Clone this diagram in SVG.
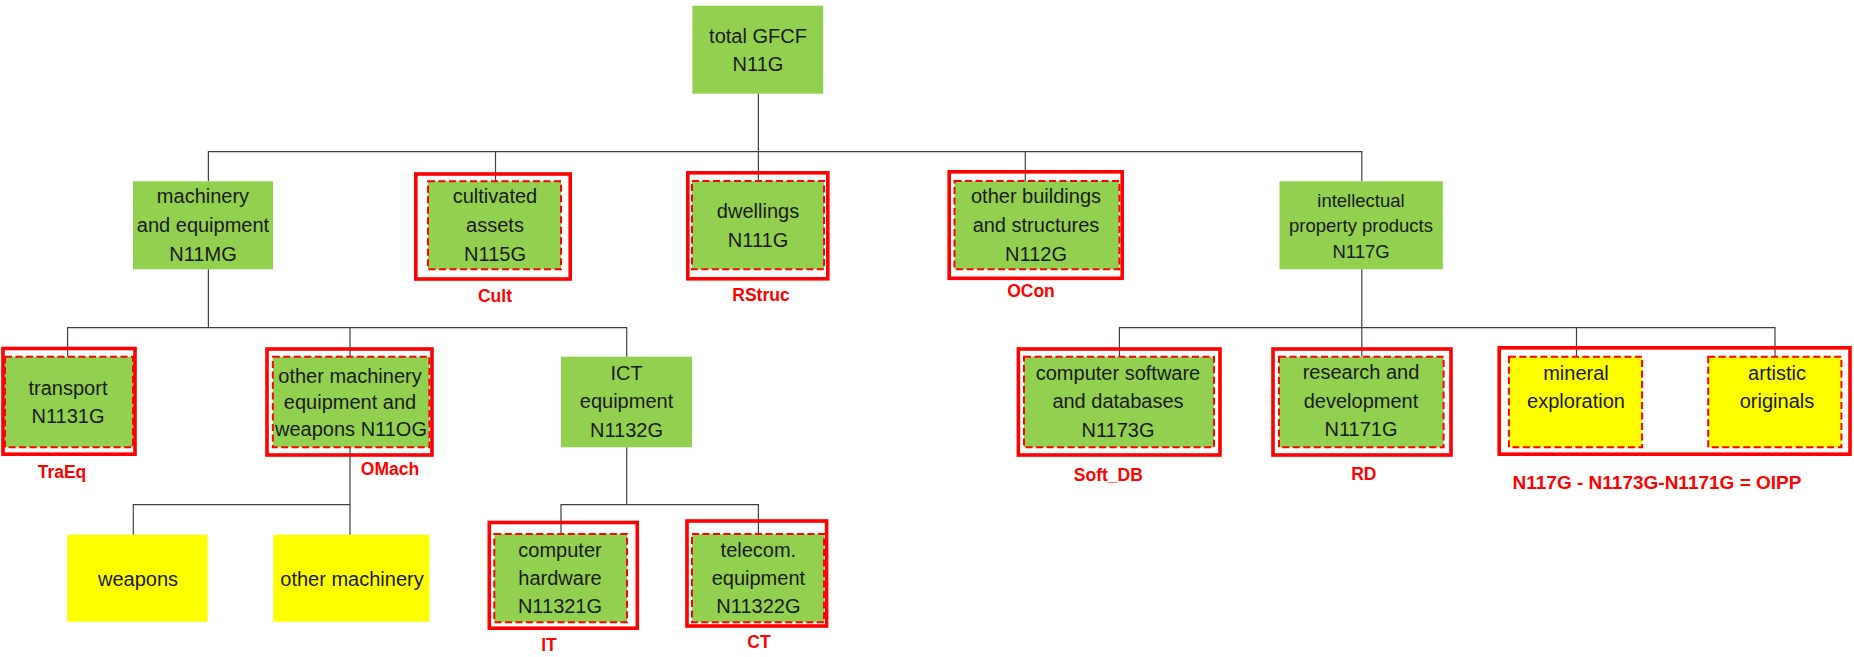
<svg xmlns="http://www.w3.org/2000/svg" width="1854" height="657" viewBox="0 0 1854 657">
<style>
.g{fill:#92D050}
.y{fill:#FFFF00}
.dash{stroke:#FF0000;stroke-width:2;stroke-dasharray:7 3.5}
.frame{fill:none;stroke:#FF0000;stroke-width:3.6}
.t{font-family:"Liberation Sans",Arial,sans-serif;font-size:20px;fill:#1a1a1a;text-anchor:middle}
.s{font-size:18.5px}
.lbl{font-family:"Liberation Sans",Arial,sans-serif;font-weight:bold;font-size:17.5px;fill:#FF0000;text-anchor:middle}
.c{stroke:#404040;stroke-width:1.2;fill:none}
</style>
<rect width="1854" height="657" fill="#FFFFFF"/>
<g id="connectors" class="c">
<path d="M758.4 93.7V181"/>
<path d="M208.4 181.3V151.7H1361.8V181.3"/>
<path d="M495.5 151.7V181.3"/>
<path d="M1025.3 151.7V181"/>
<path d="M208.4 269.3V327.7"/>
<path d="M67.6 356.7V327.7H626.7V356.7"/>
<path d="M350 327.7V356.7"/>
<path d="M350 447.3V534.7"/>
<path d="M133.3 534.7V504.7H350"/>
<path d="M626.7 447.3V504.7"/>
<path d="M561 534V504.7H758.4V534"/>
<path d="M1361.8 269.3V356.7"/>
<path d="M1119.4 356.7V327.7H1775V356.7"/>
<path d="M1576.5 327.7V356.7"/>
</g>
<g id="total">
<rect class="g" x="692.4" y="5.7" width="130.8" height="88"/>
<text class="t" x="758" y="42.7">total GFCF</text>
<text class="t" x="758" y="71">N11G</text>
</g>
<g id="machinery">
<rect class="g" x="133" y="181.3" width="140" height="88"/>
<text class="t" x="203" y="203.3">machinery</text>
<text class="t" x="203" y="232.3">and equipment</text>
<text class="t" x="203" y="261">N11MG</text>
</g>
<g id="cultivated">
<rect class="frame" x="415.8" y="174" width="154.4" height="105"/>
<rect class="g dash" x="428" y="181.3" width="133" height="88"/>
<text class="t" x="495" y="203.3">cultivated</text>
<text class="t" x="495" y="232.3">assets</text>
<text class="t" x="495" y="261">N115G</text>
<text class="lbl" x="495" y="301.7">Cult</text>
</g>
<g id="dwellings">
<rect class="frame" x="687.8" y="172.8" width="140" height="106"/>
<rect class="g dash" x="692" y="181" width="132" height="88.3"/>
<text class="t" x="758" y="218.3">dwellings</text>
<text class="t" x="758" y="246.7">N111G</text>
<text class="lbl" x="761" y="301">RStruc</text>
</g>
<g id="otherbuildings">
<rect class="frame" x="949.2" y="171.8" width="173" height="106.5"/>
<rect class="g dash" x="954.5" y="181" width="164.9" height="88.3"/>
<text class="t" x="1036" y="203.3">other buildings</text>
<text class="t" x="1036" y="232.3">and structures</text>
<text class="t" x="1036" y="261">N112G</text>
<text class="lbl" x="1031" y="296.7">OCon</text>
</g>
<g id="ipp">
<rect class="g" x="1279.5" y="181.3" width="163.3" height="88"/>
<text class="t s" x="1361" y="206.7">intellectual</text>
<text class="t s" x="1361" y="232.3">property products</text>
<text class="t s" x="1361" y="257.7">N117G</text>
</g>
<g id="transport">
<rect class="frame" x="3" y="348.5" width="132" height="105.7"/>
<rect class="g dash" x="5" y="356.7" width="128" height="90.6"/>
<text class="t" x="68" y="395">transport</text>
<text class="t" x="68" y="423.3">N1131G</text>
<text class="lbl" x="62" y="477.7">TraEq</text>
</g>
<g id="othermach">
<rect class="frame" x="267" y="349" width="165" height="106"/>
<rect class="g dash" x="272.8" y="356.7" width="156.6" height="90.6"/>
<text class="t" x="350" y="382.7">other machinery</text>
<text class="t" x="350" y="409.3">equipment and</text>
<text class="t" x="351" y="436">weapons N11OG</text>
<text class="lbl" x="390" y="475">OMach</text>
</g>
<g id="ict">
<rect class="g" x="561" y="356.7" width="131" height="90.6"/>
<text class="t" x="626.5" y="380">ICT</text>
<text class="t" x="626.5" y="408.3">equipment</text>
<text class="t" x="626.5" y="436.7">N1132G</text>
</g>
<g id="weapons">
<rect class="y" x="67.2" y="534.7" width="140.4" height="87"/>
<text class="t" x="138" y="586">weapons</text>
</g>
<g id="othermachinery">
<rect class="y" x="273.2" y="534.7" width="156.2" height="87"/>
<text class="t" x="352" y="586">other machinery</text>
</g>
<g id="hardware">
<rect class="frame" x="489.3" y="522.5" width="148" height="105.7"/>
<rect class="g dash" x="494.3" y="534" width="132.7" height="88.3"/>
<text class="t" x="560" y="556.7">computer</text>
<text class="t" x="560" y="585">hardware</text>
<text class="t" x="560" y="613.3">N11321G</text>
<text class="lbl" x="549" y="650.7">IT</text>
</g>
<g id="telecom">
<rect class="frame" x="687" y="521" width="139.6" height="105"/>
<rect class="g dash" x="692" y="534" width="132" height="88.3"/>
<text class="t" x="758.4" y="556.7">telecom.</text>
<text class="t" x="758.4" y="585">equipment</text>
<text class="t" x="758.4" y="613.3">N11322G</text>
<text class="lbl" x="759" y="648.3">CT</text>
</g>
<g id="software">
<rect class="frame" x="1018.4" y="349" width="201.6" height="106"/>
<rect class="g dash" x="1024" y="356.7" width="190" height="90.6"/>
<text class="t" x="1118" y="380">computer software</text>
<text class="t" x="1118" y="408.3">and databases</text>
<text class="t" x="1118" y="436.7">N1173G</text>
<text class="lbl" x="1108.3" y="480.7">Soft_DB</text>
</g>
<g id="rd">
<rect class="frame" x="1273" y="349" width="178" height="106"/>
<rect class="g dash" x="1279" y="356.7" width="164.6" height="90.6"/>
<text class="t" x="1361" y="379.3">research and</text>
<text class="t" x="1361" y="407.7">development</text>
<text class="t" x="1361" y="436">N1171G</text>
<text class="lbl" x="1363.8" y="480">RD</text>
</g>
<g id="oipp">
<rect class="frame" x="1499.2" y="347.8" width="350.8" height="106.4"/>
<text class="lbl" x="1657" y="489.3" style="font-size:19px">N117G - N1173G-N1171G = OIPP</text>
</g>
<g id="mineral">
<rect class="y dash" x="1508.9" y="356.7" width="133.2" height="90.6"/>
<text class="t" x="1576" y="380">mineral</text>
<text class="t" x="1576" y="408.3">exploration</text>
</g>
<g id="artistic">
<rect class="y dash" x="1708.2" y="356.7" width="133.2" height="90.6"/>
<text class="t" x="1777" y="380">artistic</text>
<text class="t" x="1777" y="408.3">originals</text>
</g>
</svg>
